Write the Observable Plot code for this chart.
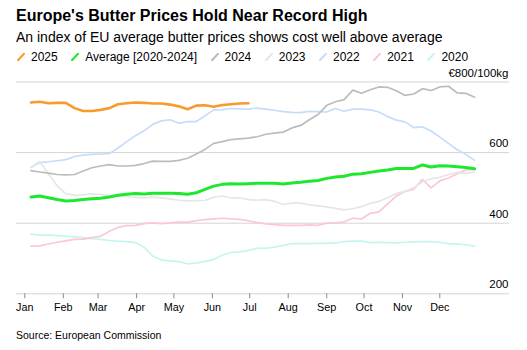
<!DOCTYPE html>
<html>
<head>
<meta charset="utf-8">
<script src="https://cdn.jsdelivr.net/npm/d3@7"></script>
<script src="https://cdn.jsdelivr.net/npm/@observablehq/plot@0.6"></script>
<style>
  html, body { margin: 0; padding: 0; background: #fff; }
  body { width: 527px; height: 350px; position: relative; overflow: hidden;
         font-family: "Liberation Sans", Arial, Helvetica, sans-serif; color: #000; }
  .abs { position: absolute; line-height: 1; white-space: nowrap; }
  #title { left: 16px; top: 8.2px; font-size: 16px; font-weight: bold; }
  #subtitle { left: 16px; top: 29.9px; font-size: 14px; }
  #legend { left: 17px; top: 50.8px; font-size: 12px; display: flex; align-items: center; }
  #legend .item { display: flex; align-items: center; margin-right: 13.5px; }
  #legend svg { margin-right: 6px; }
  #chart { left: 0; top: 64px; }
  #source { left: 16px; top: 329.9px; font-size: 10.5px; }
</style>
</head>
<body>
<div id="title" class="abs">Europe's Butter Prices Hold Near Record High</div>
<div id="subtitle" class="abs">An index of EU average butter prices shows cost well above average</div>
<div id="legend" class="abs"></div>
<div id="chart" class="abs"></div>
<div id="source" class="abs">Source: European Commission</div>
<script>
// Series names and colours
const seriesNames = ["2025", "Average [2020-2024]", "2024", "2023", "2022", "2021", "2020"];
const seriesColors = ["#f89a2c", "#1ee82e", "#bcbcbc", "#e6e6e6", "#c6ddfa", "#fbc6d6", "#c6f5f0"];
const seriesWidths = [2.6, 3, 1.7, 1.7, 1.7, 1.7, 1.7];

// Weekly observations (index values, €/100kg), first week starting Jan 6
const v2025 = [742, 744, 740, 741, 741, 726, 718, 718, 721, 726, 737, 740, 742, 741, 739, 739, 736, 731, 723, 733, 734, 730, 735, 737, 739, 740];
const vAvg = [474, 477, 472, 467, 463, 464, 467, 469, 471, 474, 479, 482, 484, 483, 485, 485, 485, 484, 482, 486, 496, 505, 510, 512, 511, 512, 513, 513, 513, 511, 514, 516, 519, 521, 527, 531, 533, 539, 540, 544, 548, 551, 555, 555, 555, 565, 559, 563, 562, 560, 558, 554];
const v2024 = [549, 545, 542, 538, 537, 538, 548, 557, 562, 566, 562, 562, 564, 569, 576, 575, 575, 578, 584, 596, 609, 626, 631, 637, 639, 641, 645, 652, 655, 658, 670, 677, 693, 708, 734, 744, 750, 777, 768, 778, 786, 785, 775, 762, 766, 781, 776, 786, 788, 769, 768, 757];
const v2023 = [558, 575, 540, 506, 484, 479, 480, 483, 481, 479, 477, 475, 473, 472, 474, 472, 469, 465, 463, 464, 465, 473, 477, 472, 472, 467, 465, 467, 462, 453, 457, 457, 452, 449, 446, 442, 438, 441, 447, 456, 462, 472, 484, 490, 500, 517, 526, 530, 538, 544, 541, 545];
const v2022 = [558, 572, 574, 577, 580, 589, 593, 595, 596, 597, 613, 631, 648, 662, 680, 690, 693, 683, 688, 688, 704, 721, 722, 725, 724, 723, 726, 723, 720, 716, 714, 713, 717, 716, 715, 725, 717, 723, 723, 721, 715, 702, 692, 687, 671, 673, 661, 644, 626, 608, 595, 578];
const v2021 = [335, 336, 341, 346, 350, 354, 355, 359, 363, 377, 388, 393, 394, 399, 401, 399, 401, 403, 403, 407, 410, 412, 414, 412, 411, 407, 402, 398, 396, 394, 394, 394, 395, 394, 400, 401, 404, 414, 412, 428, 432, 455, 477, 490, 496, 524, 500, 520, 528, 540, 551, 552];
const v2020 = [369, 366, 366, 365, 363, 361, 359, 356, 354, 351, 349, 348, 345, 332, 307, 296, 293, 291, 285, 287, 292, 297, 310, 317, 319, 323, 329, 329, 332, 337, 342, 342, 342, 343, 343, 344, 348, 349, 349, 345, 346, 345, 344, 346, 347, 348, 348, 346, 342, 341, 339, 335];
const seriesValues = [v2025, vAvg, v2024, v2023, v2022, v2021, v2020];

// Axis ticks
const yTicks = [200, 400, 600, 800];
const yTickLabels = ["200", "400", "600", "€800/100kg"];
const monthLabels = ["Jan", "Feb", "Mar", "Apr", "May", "Jun", "Jul", "Aug", "Sep", "Oct", "Nov", "Dec"];

const DAY = 864e5;
const jan1 = Date.UTC(2025, 0, 1);
const weekDate = i => new Date(Date.UTC(2025, 0, 6 + 7 * i));
const monthTicks = monthLabels.map((m, i) => new Date(Date.UTC(2025, i, 1)));

// Legend
const legend = document.getElementById("legend");
seriesNames.forEach((name, i) => {
  const item = document.createElement("div");
  item.className = "item";
  item.innerHTML = `<svg width="8" height="8" viewBox="0 0 8 8"><line x1="1" y1="7.2" x2="7" y2="0.8" stroke="${seriesColors[i]}" stroke-width="2" stroke-linecap="round"/></svg><span>${name}</span>`;
  legend.appendChild(item);
});

// Long-format table
const rows = [];
seriesNames.forEach((name, s) => {
  seriesValues[s].forEach((v, i) => rows.push({series: name, order: s, date: weekDate(i), value: v}));
});

// Draw lines back to front (2020 first, 2025 last)
const lineMarks = [];
for (let s = seriesNames.length - 1; s >= 0; s--) {
  lineMarks.push(Plot.line(rows.filter(r => r.order === s), {
    x: "date", y: "value",
    stroke: seriesColors[s], strokeWidth: seriesWidths[s],
    strokeLinejoin: "round", strokeLinecap: "round"
  }));
}

const chart = Plot.plot({
  width: 527,
  height: 256,
  marginLeft: 16,
  marginRight: 18,
  marginTop: 17.5,
  marginBottom: 26.7,
  style: {fontFamily: "'Liberation Sans', Arial, sans-serif", fontSize: "11px", background: "transparent", color: "#000"},
  x: {type: "utc", domain: [new Date(jan1 - 6.68 * DAY), new Date(jan1 + 390.1 * DAY)], axis: null},
  y: {domain: [200, 800], axis: null},
  marks: [
    Plot.ruleY(yTicks, {stroke: "#d4d4d4", strokeWidth: 1}),
    Plot.text(yTicks, {
      y: d => d, frameAnchor: "right", textAnchor: "end", dx: -1, dy: -9,
      text: (d, i) => yTickLabels[i], fontSize: 11.5, fill: "#000"
    }),
    Plot.axisX({
      ticks: monthTicks, tickFormat: d => monthLabels[d.getUTCMonth()],
      tickSize: 5, tickPadding: 4.4, stroke: "#8a8a8a", fill: "#000", fontSize: 10.8
    }),
    ...lineMarks
  ]
});
document.getElementById("chart").appendChild(chart);
</script>
</body>
</html>
